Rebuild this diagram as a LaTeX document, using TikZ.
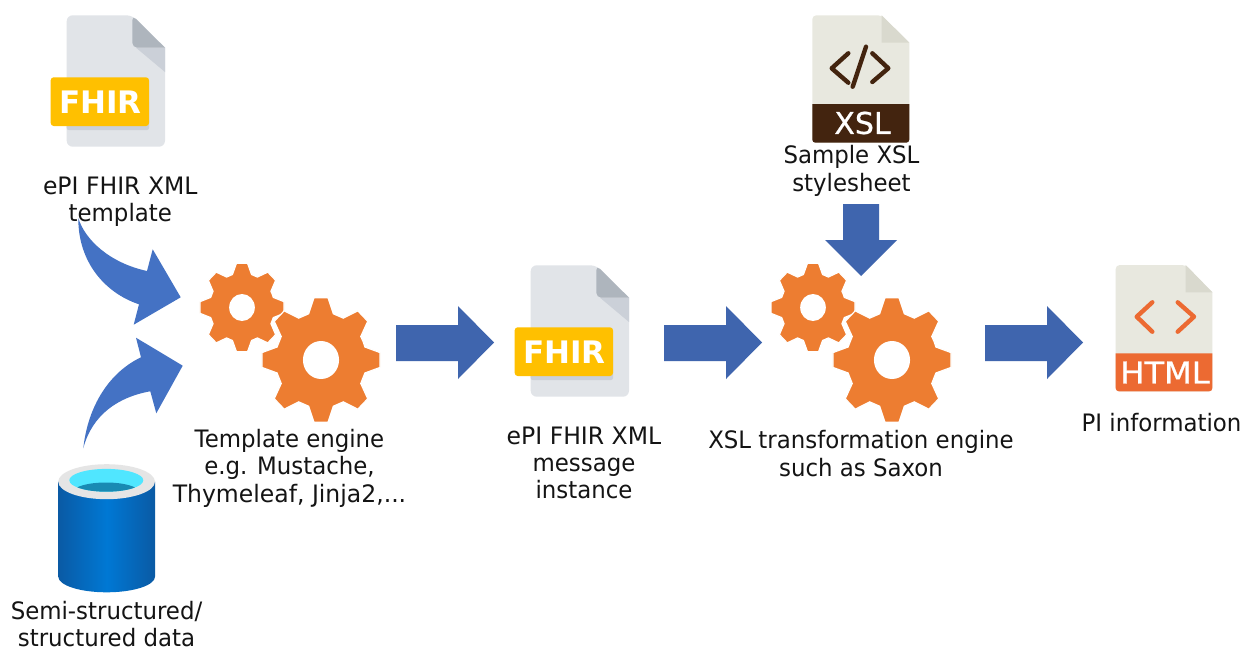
\documentclass[tikz,border=0pt]{standalone}
\usepackage{fontspec}
\setmainfont[FakeStretch=0.953]{DejaVu Sans}
\newfontfamily\badgefont{DejaVu Sans}
\newfontfamily\xslfont[FakeBold=0.7]{DejaVu Sans}
\newfontfamily\htmlfont[FakeBold=0.7,FakeStretch=1.07]{DejaVu Sans}
\newfontfamily\wideB[FakeStretch=0.98]{DejaVu Sans}
\definecolor{arrowdark}{HTML}{3F65AE}
\definecolor{arrowlight}{HTML}{4472C4}
\definecolor{gearorange}{HTML}{ED7D31}
\definecolor{docgrey}{HTML}{E1E4E8}
\definecolor{foldgrey}{HTML}{AEB5BD}
\definecolor{shadegrey}{HTML}{CBD0D8}
\definecolor{amber}{HTML}{FFC000}
\definecolor{docbeige}{HTML}{E8E8DF}
\definecolor{foldbeige}{HTML}{D9D9CE}
\definecolor{xslbrown}{HTML}{43240F}
\definecolor{htmlorange}{HTML}{EC6A32}
\definecolor{cylmid}{HTML}{0078D4}
\definecolor{cyledge}{HTML}{0A5AA4}
\definecolor{cylcyan}{HTML}{50E6FF}
\definecolor{cylteal}{HTML}{198AB3}
\tikzset{
  lbl/.style={inner sep=0pt,align=center,font=\fontsize{24}{27.4}\selectfont,text=black!92},
  badge/.style={inner sep=0pt,text=white},
  glyph/.style={line width=4.4pt,line cap=round,line join=round,fill=none},
}
% gear: cx cy outer root halfbase halftop hole
\newcommand{\mygear}[7]{%
  \begin{scope}[shift={(#1,#2)},xscale=.95]
    \fill[gearorange,draw=white,line width=1.2pt,line join=miter] (-22.5:#4)
      \foreach \a in {0,45,...,315}{ -- (\a-#5:#4) -- (\a-#6:#3) -- (\a+#6:#3) -- (\a+#5:#4)} -- cycle;
    \fill[white] (0,0) circle[radius=#7];
  \end{scope}}
\newcommand{\gearpair}[1]{%
  \mygear{242+#1}{307.5}{44.6}{34.5}{17}{7.5}{13.5}
  \mygear{321+#1}{360}{62.6}{48}{15.7}{6.8}{19}}
\newcommand{\rightarrowblock}[1]{%
  \fill[arrowdark] (#1,325) -- (#1+62,325) -- (#1+62,306) -- (#1+98,342.5) -- (#1+62,379) -- (#1+62,361) -- (#1,361) -- cycle;}
\newcommand{\fhirdoc}[3]{%
  \begin{scope}[shift={(#1,#2)}]
    \fill[docgrey,rounded corners=6pt] (66.7,15.3) -- (132.3,15.3) [sharp corners] -- (165,47.7) [rounded corners=6pt] -- (165,146.7) -- (66.7,146.7) -- cycle;
    \fill[shadegrey] (136,47.7) -- (165,47.7) -- (165,72) -- cycle;
    \fill[foldgrey,rounded corners=5pt] (132.3,15.3) [sharp corners] -- (165,47.7) [rounded corners=5pt] -- (132.3,47.7) -- cycle;
    \fill[shadegrey,rounded corners=2pt] (66.7,100) rectangle (149,130);
    \fill[amber,rounded corners=3pt] (50.7,77.3) rectangle (149,126);
    \node[badge,font=\badgefont\bfseries\fontsize{31}{31}\selectfont] (#3) at (100.5,101.8) {FHIR};
  \end{scope}}
\newcommand{\beigedoc}[8]{%
  % left top right bottom foldx foldy bandy colour
  \fill[docbeige,rounded corners=4pt] (#1,#2) -- (#5,#2) [sharp corners] -- (#3,#6) [rounded corners=4pt] -- (#3,#4) -- (#1,#4) -- cycle;
  \fill[foldbeige] (#5,#2) -- (#3,#6) -- (#5,#6) -- cycle;
  \fill[#8,rounded corners=3pt] (#1,#7) [sharp corners] -- (#3,#7) [rounded corners=3pt] -- (#3,#4) -- (#1,#4) [sharp corners] -- cycle;
}
\begin{document}
\begin{tikzpicture}[x=1pt,y=-1pt]
\useasboundingbox (0,0) rectangle (1243,648);
\fill[white] (0,0) rectangle (1243,648);

% documents
\fhirdoc{0}{0}{fhirA}
\fhirdoc{464}{250}{fhirB}

\beigedoc{812.3}{15.3}{909.3}{142.7}{881.7}{42.7}{104}{xslbrown}
\draw[glyph,xslbrown] (848.3,53.3) -- (831.7,68.3) -- (848.3,82.7);
\draw[glyph,xslbrown] (866,46.7) -- (852.7,86.7);
\draw[glyph,xslbrown] (872.3,53.3) -- (888.3,68.3) -- (872.3,82);
\node[badge,font=\xslfont\fontsize{30}{30}\selectfont] (xsltag) at (862.5,123) {XSL};

\beigedoc{1115.7}{265}{1212.3}{391.3}{1185.7}{292.3}{353.3}{htmlorange}
\draw[glyph,htmlorange] (1152.3,302.3) -- (1136.7,316.7) -- (1152.3,331.7);
\draw[glyph,htmlorange] (1177.7,302.3) -- (1194,316.7) -- (1177.7,331.7);
\node[badge,font=\htmlfont\fontsize{30}{30}\selectfont] (htmltag) at (1165,372.5) {HTML};

% database cylinder
\shade[left color=cyledge,right color=cyledge,middle color=cylmid]
  (58.3,481.7) -- (58.3,576.7) arc[start angle=180,end angle=0,x radius=48.35,y radius=15.6] -- (155,481.7) -- cycle;
\fill[black!10] (106.6,481.7) ellipse[x radius=48.35,y radius=17.5];
\begin{scope}
  \clip (106.3,480.3) ellipse[x radius=37,y radius=11.4];
  \fill[cylcyan] (60,460) rectangle (150,500);
  \fill[cylteal] (106,492) ellipse[x radius=33,y radius=9.5];
\end{scope}

% gears
\gearpair{0}
\gearpair{571}

% block arrows
\rightarrowblock{396}
\rightarrowblock{664}
\rightarrowblock{985}
\fill[arrowdark] (843,204) -- (879,204) -- (879,240) -- (897,240) -- (861,276) -- (825,240) -- (843,240) -- cycle;

% curved arrows
\fill[arrowlight] (78.3,218) .. controls (85,240) and (110,263) .. (147,271) -- (152.7,249.3) -- (180.7,297.3) -- (133.7,324.7) -- (139,304.3) .. controls (105,293) and (78,262) .. cycle;
\fill[arrowlight] (83.3,448.3) .. controls (88,405) and (110,372) .. (141,357.3) -- (136,337.7) -- (182.7,365.7) -- (156.3,413.3) -- (150.3,391.3) .. controls (118,397) and (92,415) .. cycle;

% labels
\node[lbl] (lblTemplate) at (120.3,201.5) {{\wideB ePI FHIR XML}\\template};
\node[lbl] (lblEngine) at (289.5,468) {Template engine\\e.g. Mustache,\\{\wideB Thymeleaf, Jinja2,...}};
\node[lbl] (lblInstance) at (584,463) {{\wideB ePI FHIR XML}\\message\\instance};
\node[lbl] (lblSaxon) at (861,453.5) {XSL transformation engine\\such as Saxon};
\node[lbl] (lblSample) at (851.5,171) {Sample XSL\\stylesheet};
\node[lbl] (lblPI) at (1161.5,422.5) {PI information};
\node[lbl] (lblData) at (106.5,624) {Semi-structured/\\structured data};
\end{tikzpicture}
\end{document}
